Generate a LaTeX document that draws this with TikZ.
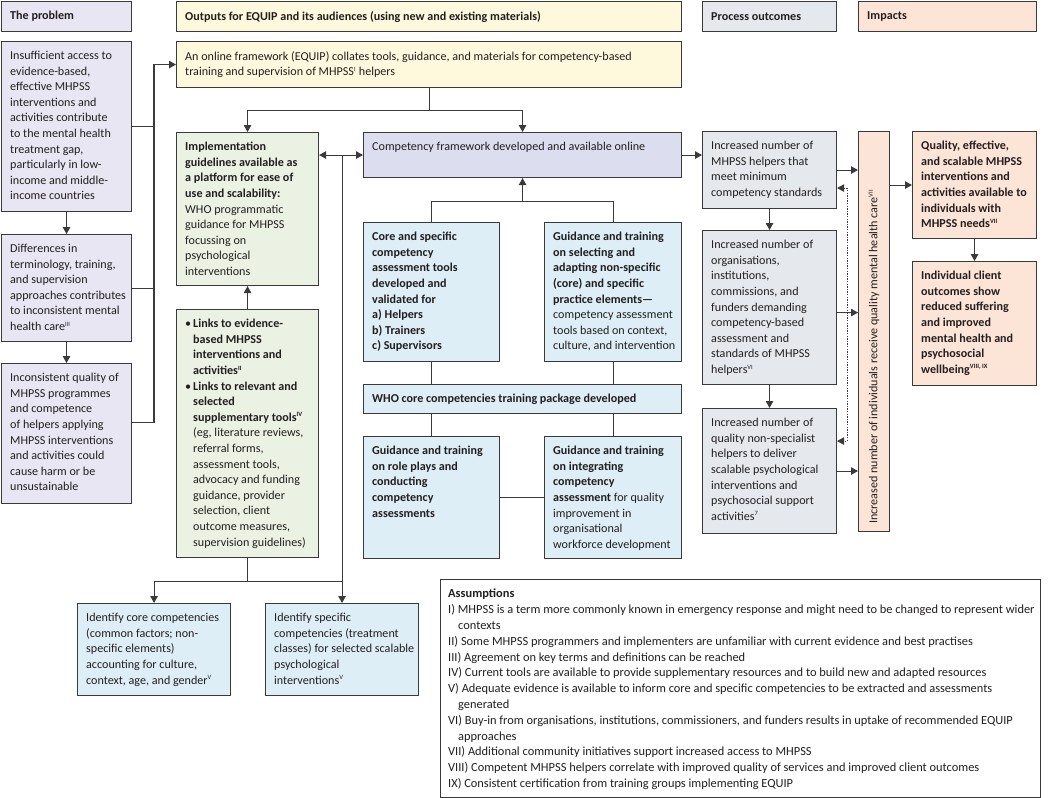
\documentclass[tikz,border=0pt]{standalone}
\usepackage{fontspec}
\setmainfont{Carlito}
\usepackage{tikz}
\usetikzlibrary{arrows.meta,positioning,calc}
\definecolor{trait}{HTML}{3A3A3A}
\definecolor{encre}{HTML}{231F20}
\definecolor{lavande}{HTML}{E8E6F3}
\definecolor{lavfonce}{HTML}{DCDEF0}
\definecolor{jaune}{HTML}{FEF9DC}
\definecolor{vertpale}{HTML}{EBF2E3}
\definecolor{bleupale}{HTML}{DDEEF7}
\definecolor{grispale}{HTML}{E5E9ED}
\definecolor{peche}{HTML}{FCE5D7}
\newcommand{\exposant}[1]{\textsuperscript{\fontsize{6.5}{6.5}\selectfont #1}}
\tikzset{
  cadre/.style={draw=trait,line width=1.1pt,anchor=north west,inner sep=0pt},
  probleme/.style={cadre,fill=lavande},
  sortie/.style={cadre,fill=jaune},
  guide/.style={cadre,fill=vertpale},
  outil/.style={cadre,fill=bleupale},
  processus/.style={cadre,fill=grispale},
  impact/.style={cadre,fill=peche},
  texte/.style={inner sep=0pt,align=left,text=encre,font=\fontsize{12.1}{15.6}\selectfont},
  titre/.style={texte,font=\bfseries\fontsize{12.1}{15.6}\selectfont},
  lien/.style={line width=1.1pt,draw=trait},
  fleche/.style={lien,-{Triangle[length=7pt,width=7.5pt]}},
  doublefleche/.style={lien,{Triangle[length=7pt,width=7.5pt]}-{Triangle[length=7pt,width=7.5pt]}},
}

\begin{document}
\begin{tikzpicture}[x=1pt,y=-1pt]
  \useasboundingbox[fill=white] (0,0) rectangle (1050,798);

  % column headers
  \node[probleme,minimum width=130,minimum height=30] (hprob) at (1,1) {};
  \node[titre,right=9pt of hprob.west] (hprobt) {The problem};
  \node[sortie,minimum width=505,minimum height=30] (hsort) at (176,1) {};
  \node[titre,right=9pt of hsort.west] (hsortt) {Outputs for EQUIP and its audiences (using new and existing materials)};
  \node[processus,minimum width=134,minimum height=30] (hproc) at (702,1) {};
  \node[titre,right=9pt of hproc.west] (hproct) {Process outcomes};
  \node[impact,minimum width=178,minimum height=30] (himp) at (858,1) {};
  \node[titre,right=9pt of himp.west] (himpt) {Impacts};

  % the problem
  \node[probleme,minimum width=130,minimum height=170] (p1) at (1,41) {};
  \node[texte,below right=10pt and 9pt of p1.north west] (p1t) {Insufficient access to\\evidence-based,\\effective MHPSS\\interventions and\\activities contribute\\to the mental health\\treatment gap,\\particularly in low-\\income and middle-\\income countries};
  \node[probleme,minimum width=130,minimum height=107] (p2) at (1,234) {};
  \node[texte,below right=10pt and 9pt of p2.north west] (p2t) {Differences in\\terminology, training,\\and supervision\\approaches contributes\\to inconsistent mental\\health care\exposant{III}};
  \node[probleme,minimum width=130,minimum height=140] (p3) at (1,363) {};
  \node[texte,below right=10pt and 9pt of p3.north west] (p3t) {Inconsistent quality of\\MHPSS programmes\\and competence\\of helpers applying\\MHPSS interventions\\and activities could\\cause harm or be\\unsustainable};

  % outputs
  \node[sortie,minimum width=505,minimum height=46] (equip) at (176,41) {};
  \node[texte,below right=10pt and 9pt of equip.north west] (equipt) {An online framework (EQUIP) collates tools, guidance, and materials for competency-based\\training and supervision of MHPSS\exposant{I} helpers};
  \node[guide,minimum width=142,minimum height=153] (impl) at (176,132) {};
  \node[texte,below right=10pt and 9pt of impl.north west] (implt) {\textbf{Implementation}\\\textbf{guidelines available as}\\\textbf{a platform for ease of}\\\textbf{use and scalability:}\\WHO programmatic\\guidance for MHPSS\\focussing on\\psychological\\interventions};
  \node[guide,minimum width=142,minimum height=248] (links) at (176,309) {};
  \node[texte,below right=10pt and 9pt of links.north west] (linkst) {\makebox[8pt][l]{•}\textbf{Links to evidence-}\\\hspace*{8pt}\textbf{based MHPSS}\\\hspace*{8pt}\textbf{interventions and}\\\hspace*{8pt}\textbf{activities\exposant{II}}\\\makebox[8pt][l]{•}\textbf{Links to relevant and}\\\hspace*{8pt}\textbf{selected}\\\hspace*{8pt}\textbf{supplementary tools\exposant{IV}}\\\hspace*{8pt}(eg, literature reviews,\\\hspace*{8pt}referral forms,\\\hspace*{8pt}assessment tools,\\\hspace*{8pt}advocacy and funding\\\hspace*{8pt}guidance, provider\\\hspace*{8pt}selection, client\\\hspace*{8pt}outcome measures,\\\hspace*{8pt}supervision guidelines)};
  \node[outil,minimum width=153,minimum height=92] (idcore) at (77,603) {};
  \node[texte,below right=10pt and 9pt of idcore.north west] (idcoret) {Identify core competencies\\(common factors; non-\\specific elements)\\accounting for culture,\\context, age, and gender\exposant{V}};
  \node[outil,minimum width=153,minimum height=92] (idspec) at (265,603) {};
  \node[texte,below right=10pt and 9pt of idspec.north west] (idspect) {Identify specific\\competencies (treatment\\classes) for selected scalable\\psychological\\interventions\exposant{V}};
  \node[cadre,fill=lavfonce,minimum width=318,minimum height=45] (comp) at (363,132) {};
  \node[texte,below right=10pt and 9pt of comp.north west] (compt) {Competency framework developed and available online};
  \node[outil,minimum width=136,minimum height=139] (tools) at (363,222) {};
  \node[texte,below right=10pt and 9pt of tools.north west] (toolst) {\textbf{Core and specific}\\\textbf{competency}\\\textbf{assessment tools}\\\textbf{developed and}\\\textbf{validated for}\\\textbf{a) Helpers}\\\textbf{b) Trainers}\\\textbf{c) Supervisors}};
  \node[outil,minimum width=137,minimum height=139] (select) at (544,222) {};
  \node[texte,below right=10pt and 9pt of select.north west] (selectt) {\textbf{Guidance and training}\\\textbf{on selecting and}\\\textbf{adapting non-specific}\\\textbf{(core) and specific}\\\textbf{practice elements—}\\competency assessment\\tools based on context,\\culture, and intervention};
  \node[outil,minimum width=318,minimum height=29] (who) at (363,384) {};
  \node[titre,right=9pt of who.west] (whot) {WHO core competencies training package developed};
  \node[outil,minimum width=136,minimum height=122] (roles) at (363,436) {};
  \node[texte,below right=10pt and 9pt of roles.north west] (rolest) {\textbf{Guidance and training}\\\textbf{on role plays and}\\\textbf{conducting}\\\textbf{competency}\\\textbf{assessments}};
  \node[outil,minimum width=137,minimum height=122] (integ) at (544,436) {};
  \node[texte,below right=10pt and 9pt of integ.north west] (integt) {\textbf{Guidance and training}\\\textbf{on integrating}\\\textbf{competency}\\\textbf{assessment} for quality\\improvement in\\organisational\\workforce development};

  % process outcomes
  \node[processus,minimum width=134,minimum height=77] (po1) at (702,131) {};
  \node[texte,below right=10pt and 9pt of po1.north west] (po1t) {Increased number of\\MHPSS helpers that\\meet minimum\\competency standards};
  \node[processus,minimum width=134,minimum height=154] (po2) at (702,230) {};
  \node[texte,below right=10pt and 9pt of po2.north west] (po2t) {Increased number of\\organisations,\\institutions,\\commissions, and\\funders demanding\\competency-based\\assessment and\\standards of MHPSS\\helpers\exposant{VI}};
  \node[processus,minimum width=134,minimum height=125] (po3) at (702,408) {};
  \node[texte,below right=10pt and 9pt of po3.north west] (po3t) {Increased number of\\quality non-specialist\\helpers to deliver\\scalable psychological\\interventions and\\psychosocial support\\activities\exposant{7}};

  % impacts
  \node[impact,minimum width=31,minimum height=400] (bar) at (858,131) {};
  \node[texte,rotate=90,anchor=west] (bart) at ([yshift=8pt]bar.south) {Increased number of individuals receive quality mental health care\exposant{VII}};
  \node[impact,minimum width=124,minimum height=107] (imp1) at (912,131) {};
  \node[texte,below right=10pt and 9pt of imp1.north west] (imp1t) {\textbf{Quality, effective,}\\\textbf{and scalable MHPSS}\\\textbf{interventions and}\\\textbf{activities available to}\\\textbf{individuals with}\\\textbf{MHPSS needs\exposant{VII}}};
  \node[impact,minimum width=124,minimum height=124] (imp2) at (912,261) {};
  \node[texte,below right=10pt and 9pt of imp2.north west] (imp2t) {\textbf{Individual client}\\\textbf{outcomes show}\\\textbf{reduced suffering}\\\textbf{and improved}\\\textbf{mental health and}\\\textbf{psychosocial}\\\textbf{wellbeing\exposant{VIII, IX}}};

  % assumptions
  \node[cadre,fill=white,minimum width=600,minimum height=218] (assum) at (440,579) {};
  \node[texte,font=\fontsize{12.4}{15.8}\selectfont,below right=10pt and 8pt of assum.north west] (assumt) {\textbf{Assumptions}\\I) MHPSS is a term more commonly known in emergency response and might need to be changed to represent wider\\\hspace*{10pt}contexts\\II) Some MHPSS programmers and implementers are unfamiliar with current evidence and best practises\\III) Agreement on key terms and definitions can be reached\\IV) Current tools are available to provide supplementary resources and to build new and adapted resources\\V) Adequate evidence is available to inform core and specific competencies to be extracted and assessments\\\hspace*{10pt}generated\\VI) Buy-in from organisations, institutions, commissioners, and funders results in uptake of recommended EQUIP\\\hspace*{10pt}approaches\\VII) Additional community initiatives support increased access to MHPSS\\VIII) Competent MHPSS helpers correlate with improved quality of services and improved client outcomes\\IX) Consistent certification from training groups implementing EQUIP};

  % connectors, problem column
  \coordinate (bus) at (154,0);
  \draw[fleche] (p1) -- (p2);
  \draw[fleche] (p2) -- (p3);
  \draw[lien] (p1.east) -- (p1.east -| bus);
  \draw[lien] (p2.east) -- (p2.east -| bus);
  \draw[fleche] ([yshift=11pt]p3.east) -| (bus |- equip.west) -- (equip.west);

  % connectors, outputs
  \draw[lien] (equip.south) -- ++(0,22) coordinate (fourche);
  \draw[fleche] (fourche) -| (impl.north);
  \draw[fleche] (fourche) -| (comp.north);
  \draw[doublefleche] (impl.east |- comp.west) -- (comp.west);
  \draw[fleche] (idspec.north |- comp.west) -- (idspec.north);
  \draw[fleche] (links) -- (impl);
  \draw[lien] (links.south) -- ++(0,23) coordinate (noeud);
  \draw[fleche] (noeud) -| (idcore.north);
  \draw[lien] (noeud) -- (noeud -| idspec.north);
  \coordinate (jonction) at ([yshift=-23pt]comp.south);
  \draw[fleche] (jonction) -- (comp.south);
  \draw[lien] (tools.north) |- (jonction) -| (select.north);
  \draw[lien] (tools.south) -- (tools.south |- who.north);
  \draw[lien] (select.south) -- (select.south |- who.north);
  \draw[lien] (who.south -| roles.north) -- (roles.north);
  \draw[lien] (who.south -| integ.north) -- (integ.north);
  \draw[lien] (roles) -- (integ);

  % connectors, outcomes and impacts
  \draw[fleche] (comp.east) -- (comp.east -| po1.west);
  \draw[fleche] (po1) -- (po2);
  \draw[fleche] (po2) -- (po3);
  \draw[fleche] (po1.east) -- (po1.east -| bar.west);
  \draw[fleche] ([yshift=-5pt]po2.east) -- ([yshift=-5pt]po2.east -| bar.west);
  \draw[fleche] (po3.east) -- (po3.east -| bar.west);
  \draw[doublefleche,line width=1pt,dash pattern=on 1.3pt off 1.3pt] ([yshift=-18pt]po1.east) -- ++(10,0) |- ([yshift=30pt]po3.east);
  \draw[fleche] (bar.east |- imp1.west) -- (imp1.west);
  \draw[fleche] (imp1) -- (imp2);
\end{tikzpicture}
\end{document}
